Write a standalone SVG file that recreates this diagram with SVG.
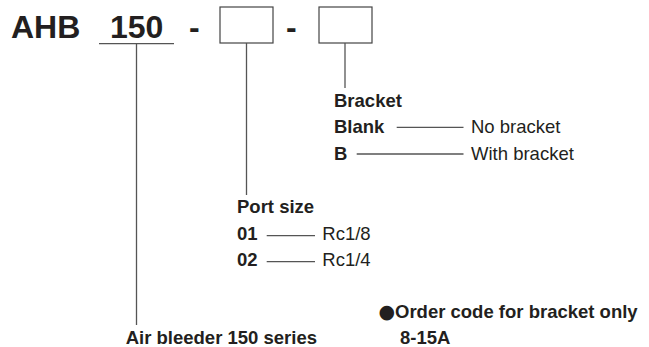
<svg xmlns="http://www.w3.org/2000/svg" width="649" height="347" viewBox="0 0 649 347">
<style>
text{font-family:"Liberation Sans",Arial,sans-serif;fill:#231f20}
.b{font-weight:bold;font-size:18.5px}
.r{font-size:18.5px}
.big{font-weight:bold;font-size:32px}
text.dot{font-family:"DejaVu Sans",sans-serif;font-size:19px}
.ln{stroke:#555;stroke-width:1.3;fill:none}
.box{stroke:#444;stroke-width:1.2;fill:#fff}
</style>
<rect width="649" height="347" fill="#fff"/>
<g id="code">
<text class="big" x="11" y="37.7">AHB</text>
<text class="big" x="110" y="37.7">150</text>
<text class="big" x="189" y="37.7">-</text>
<text class="big" x="286" y="37.7">-</text>
</g>
<g id="box-port"><rect class="box" x="220" y="7" width="53" height="36"/></g>
<g id="box-bracket"><rect class="box" x="319" y="7" width="53" height="36"/></g>
<g id="connectors">
<line class="ln" x1="99" y1="43.7" x2="174" y2="43.7"/>
<line class="ln" x1="136.5" y1="43.7" x2="136.5" y2="325"/>
<line class="ln" x1="246.5" y1="43" x2="246.5" y2="195"/>
<line class="ln" x1="345" y1="43" x2="345" y2="88"/>
<line class="ln" x1="396.7" y1="127.3" x2="463.5" y2="127.3"/>
<line class="ln" x1="356.7" y1="154" x2="463.5" y2="154"/>
<line class="ln" x1="266.7" y1="235.7" x2="315" y2="235.7"/>
<line class="ln" x1="266.7" y1="261.7" x2="315" y2="261.7"/>
</g>
<g id="bracket">
<text class="b" x="334" y="106.7">Bracket</text>
<text class="b" x="334" y="133.3">Blank</text>
<text class="r" x="471" y="133.3">No bracket</text>
<text class="b" x="334" y="160">B</text>
<text class="r" x="471" y="160">With bracket</text>
</g>
<g id="port-size">
<text class="b" x="237" y="213.3">Port size</text>
<text class="b" x="237" y="239.5">01</text>
<text class="r" x="322.3" y="239.5">Rc1/8</text>
<text class="b" x="237" y="266">02</text>
<text class="r" x="322.3" y="266">Rc1/4</text>
</g>
<g id="series">
<text class="b" x="125.7" y="344">Air bleeder 150 series</text>
</g>
<g id="order">
<text class="dot" x="378.5" y="317.7">●</text>
<text class="b" x="395" y="317.7">Order code for bracket only</text>
<text class="b" x="400" y="344">8-15A</text>
</g>
</svg>
